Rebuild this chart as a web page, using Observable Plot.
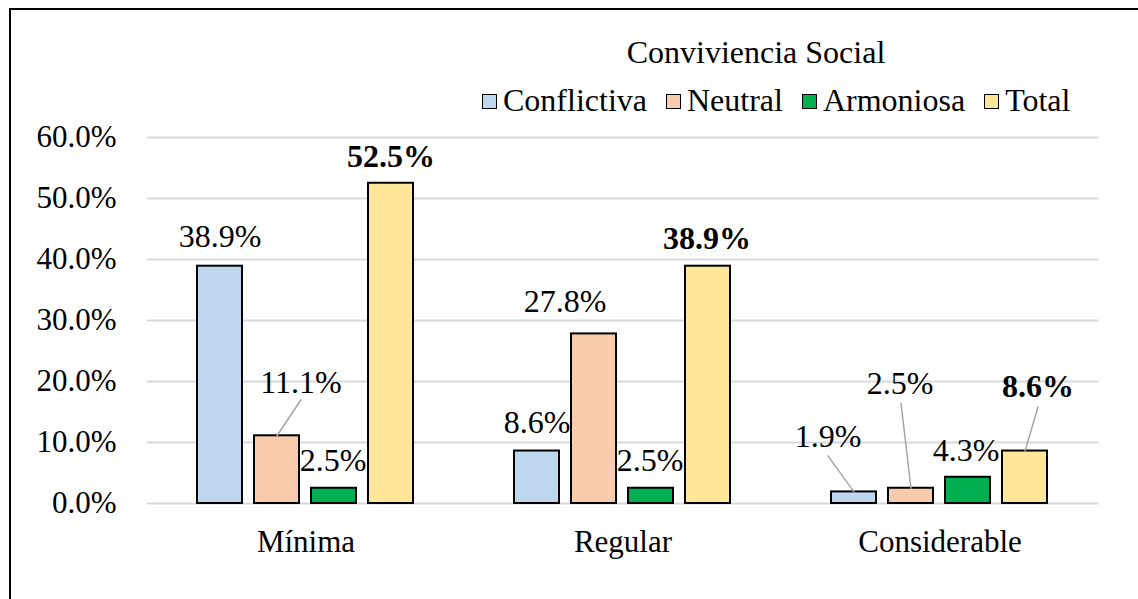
<!DOCTYPE html>
<html>
<head>
<meta charset="utf-8">
<script src="https://cdn.jsdelivr.net/npm/d3@7"></script>
<script src="https://cdn.jsdelivr.net/npm/@observablehq/plot@0.6"></script>
<style>
  html, body { margin: 0; padding: 0; background: #fff; }
  #wrap { position: relative; width: 1138px; height: 599px; overflow: hidden; font-family: "Liberation Serif", "Tinos", "Times New Roman", "DejaVu Serif", serif; color: #000; }
  #frame { position: absolute; left: 9px; top: 8px; width: 1200px; height: 700px; border-left: 2px solid #000; border-top: 2px solid #000; box-sizing: border-box; }
  #chart { position: absolute; left: 0; top: 0; }
  #title { position: absolute; left: 756px; top: 34px; transform: translateX(-50%); font-size: 32px; white-space: nowrap; line-height: 36px; }
  #legend { position: absolute; left: 482px; top: 82px; display: flex; align-items: center; font-size: 32px; line-height: 36px; white-space: nowrap; }
  .item { display: flex; align-items: center; margin-right: 19px; }
  .sw { width: 13px; height: 13px; border: 1.5px solid #000; margin-right: 6px; margin-top: 2px; }
</style>
</head>
<body>
<div id="wrap">
  <div id="frame"></div>
  <div id="chart"></div>
  <div id="title"></div>
  <div id="legend"></div>
</div>
<script>
// ---- data ----
const titleText = "Conviviencia Social";
const categories = ["Mínima", "Regular", "Considerable"];
const series = ["Conflictiva", "Neutral", "Armoniosa", "Total"];
const conflictiva = [0.389, 0.086, 0.019];
const neutral = [0.111, 0.278, 0.025];
const armoniosa = [0.025, 0.025, 0.043];
const total = [0.525, 0.389, 0.086];
const yTicks = [0, 0.1, 0.2, 0.3, 0.4, 0.5, 0.6];
const seriesColors = ["#BDD7EE", "#F8CBAD", "#00B050", "#FFE699"];

// ---- layout of labels (pixel offsets from bar top centre) ----
// [labelDx, labelDy, leader end [dx, dy] or null]
const labelLayout = {
  "Mínima":       {Conflictiva: [0, -29, null], Neutral: [24, -53, [24, -36]], Armoniosa: [-1, -28, null], Total: [0, -27, null]},
  "Regular":      {Conflictiva: [0, -28, null], Neutral: [-29, -32, null], Armoniosa: [-1, -28, null], Total: [-1, -27, null]},
  "Considerable": {Conflictiva: [-26, -55, [-26, -36]], Neutral: [-11, -105, [-10, -85]], Armoniosa: [-2, -27, null], Total: [13, -64, [13, -44]]}
};

const valuesBySeries = [conflictiva, neutral, armoniosa, total];
const rows = [];
categories.forEach((c, i) => series.forEach((s, j) => rows.push({cat: c, serie: s, value: valuesBySeries[j][i]})));

const fmt = d3.format(".1%");
const FONT = "'Liberation Serif', Tinos, 'Times New Roman', 'DejaVu Serif', serif";

const labelMarks = rows.map(r => {
  const [dx, dy] = labelLayout[r.cat][r.serie];
  return Plot.text([r], {
    fx: "cat", x: "serie", y: "value", text: d => fmt(d.value),
    dx, dy, lineAnchor: "middle", textAnchor: "middle",
    fontWeight: r.serie === "Total" ? "bold" : "normal",
    fontSize: 32, fill: "#000", fontFamily: FONT
  });
});

const leaderRows = rows.filter(r => labelLayout[r.cat][r.serie][2]).map(r => {
  const [ldx, ldy] = labelLayout[r.cat][r.serie][2];
  return {...r, len: Math.hypot(ldx, ldy), rot: Math.atan2(ldx, -ldy) * 180 / Math.PI};
});

const lineShape = {draw(context, l) { context.moveTo(0, 0); context.lineTo(0, -l); }};

const chart = Plot.plot({
  width: 1138,
  height: 599,
  marginLeft: 146,
  marginRight: 39,
  marginTop: 137,
  marginBottom: 96,
  style: {fontFamily: FONT, fontSize: "31px", color: "#000", background: "transparent", overflow: "visible"},
  fx: {domain: categories, padding: 0, axis: "bottom", tickSize: 0, tickPadding: 26, label: null, fontSize: 32},
  x: {domain: series, paddingInner: 0.207, paddingOuter: 0.845, axis: null},
  y: {domain: [0, 0.6], ticks: yTicks, tickFormat: ".1%", tickSize: 0, tickPadding: 31, label: null},
  color: {domain: series, range: seriesColors},
  length: {type: "identity"},
  marks: [
    Plot.ruleY(yTicks, {stroke: "#d9d9d9", strokeWidth: 2}),
    Plot.barY(rows, {fx: "cat", x: "serie", y: "value", fill: "serie", stroke: "#000", strokeWidth: 2}),
    Plot.vector(leaderRows, {fx: "cat", x: "serie", y: "value", length: "len", rotate: "rot", anchor: "start", shape: lineShape, stroke: "#a6a6a6", strokeWidth: 1.5}),
    ...labelMarks
  ]
});
document.getElementById("chart").appendChild(chart);

document.getElementById("title").textContent = titleText;
const legend = document.getElementById("legend");
series.forEach((s, j) => {
  const it = document.createElement("div");
  it.className = "item";
  const sw = document.createElement("div");
  sw.className = "sw";
  sw.style.background = seriesColors[j];
  const tx = document.createElement("span");
  tx.textContent = s;
  it.appendChild(sw); it.appendChild(tx);
  legend.appendChild(it);
});
</script>
</body>
</html>
